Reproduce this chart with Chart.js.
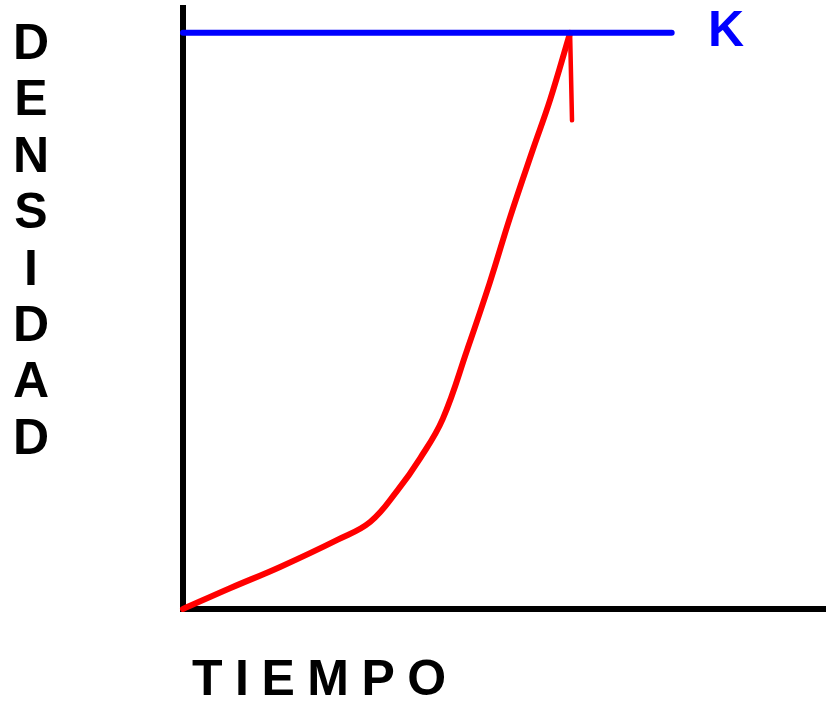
<!DOCTYPE html>
<html>
<head>
<meta charset="utf-8">
<script src="https://cdn.jsdelivr.net/npm/chart.js@4"></script>
<style>
  html, body { margin: 0; padding: 0; background: #fff; }
  #wrap { width: 826px; height: 701px; }
</style>
</head>
<body>
<div id="wrap"><canvas id="growth-chart" width="826" height="701"></canvas></div>
<script>
// curva de crecimiento (tiempo, densidad)
const tiempo = [0, 7.3, 15.1, 24.0, 29.1, 33.3, 36.9, 40.4, 44.2, 47.7, 50.9, 54.4, 57.1, 60.2]
const densidad = [0, 3.6, 7.3, 12.0, 15.1, 20.5, 26.2, 33.0, 45.0, 56.6, 68.1, 79.7, 88.4, 100]

// capacidad de carga K
const kValue = 100
const kTiempo = [0, 76]

// marca vertical bajo K
const marcaTiempo = [60.2, 60.5]
const marcaDensidad = [100, 84.8]

const yLetters = 'DENSIDAD'
const xTitle = 'TIEMPO'
const kLabel = 'K'

const FONT = 'bold 50px "Liberation Sans", Arial, sans-serif'

const labelsPlugin = {
  id: 'labels',
  afterDraw(chart) {
    const c = chart.ctx
    c.save()
    c.font = FONT
    c.textBaseline = 'alphabetic'
    c.textAlign = 'center'
    c.fillStyle = '#000'
    // letras verticales
    for (let i = 0; i < yLetters.length; i++) {
      c.fillText(yLetters[i], 31, 59 + i * 56.4)
    }
    // titulo del eje x
    c.textAlign = 'left'
    let x = 192
    for (const ch of xTitle) {
      c.fillText(ch, x, 695)
      x += c.measureText(ch).width + 12.5
    }
    // K
    const yK = chart.scales.y.getPixelForValue(kValue)
    c.fillStyle = '#0000ff'
    c.textAlign = 'center'
    c.fillText(kLabel, 726, yK + 13)
    c.restore()
  }
}

const ctx = document.getElementById('growth-chart')

new Chart(ctx, {
  type: 'line',
  data: {
    datasets: [
      {
        data: tiempo.map((t, i) => ({ x: t, y: densidad[i] })),
        borderColor: '#ff0000',
        borderWidth: 6,
        pointRadius: 0,
        tension: 0.4,
        borderCapStyle: 'round',
        clip: false,
        order: 2,
      },
      {
        data: marcaTiempo.map((t, i) => ({ x: t, y: marcaDensidad[i] })),
        borderColor: '#ff0000',
        borderWidth: 4.5,
        pointRadius: 0,
        borderCapStyle: 'round',
        clip: false,
        order: 3,
      },
      {
        data: kTiempo.map((t) => ({ x: t, y: kValue })),
        borderColor: '#0000ff',
        borderWidth: 6,
        pointRadius: 0,
        borderCapStyle: 'round',
        clip: false,
        order: 1,
      },
    ],
  },
  options: {
    responsive: false,
    animation: false,
    layout: { padding: { left: 183, right: 0, top: 8, bottom: 92 } },
    plugins: { legend: { display: false }, tooltip: { enabled: false } },
    scales: {
      x: {
        type: 'linear',
        min: 0,
        max: 100,
        ticks: { display: false },
        grid: { display: false, drawTicks: false },
        border: { color: '#000', width: 6 },
      },
      y: {
        min: 0,
        max: 104.3,
        ticks: { display: false },
        grid: { display: false, drawTicks: false },
        border: { color: '#000', width: 6 },
      },
    },
  },
  plugins: [labelsPlugin],
})
</script>
</body>
</html>
